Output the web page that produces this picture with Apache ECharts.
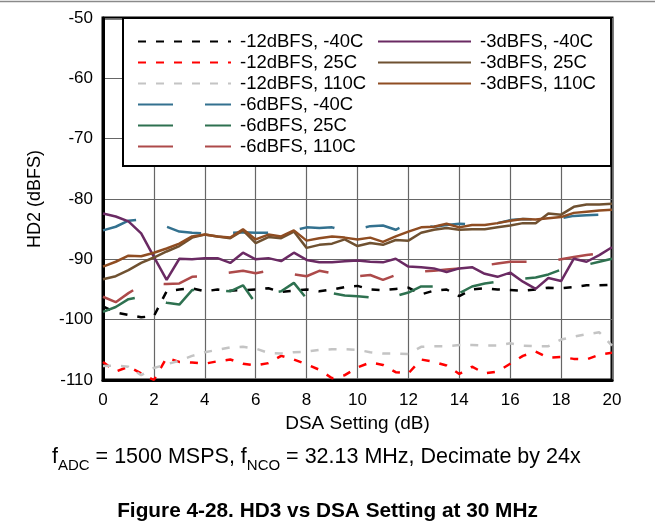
<!DOCTYPE html>
<html>
<head>
<meta charset="utf-8">
<title>HD3 vs DSA Setting at 30 MHz</title>
<script src="https://cdn.jsdelivr.net/npm/echarts@6/dist/echarts.min.js"></script>
<style>
  html, body { margin: 0; padding: 0; background: #fff; }
  #main { width: 655px; height: 529px; }
</style>
</head>
<body>
<div id="main"></div>
<script>
// DSA setting (dB), x positions of every sample
const dsa = [0, 0.5, 1, 1.5, 2, 2.5, 3, 3.5, 4, 4.5, 5, 5.5, 6, 6.5, 7, 7.5, 8, 8.5, 9, 9.5,
  10, 10.5, 11, 11.5, 12, 12.5, 13, 13.5, 14, 14.5, 15, 15.5, 16, 16.5, 17, 17.5, 18, 18.5, 19, 19.5, 20]

// HD2 (dBFS)
const m12_n40 = [-97.8, -98.8, -99.2, -99.6, -99.4, -95.3, -95.0, -94.8, -95.3, -95.0, -95.2, -95.1, -95.0, -94.8, -95.4, -95.2, -95.0, -95.3, -95.0, -94.6,
  -94.4, -95.0, -95.1, -94.9, -94.7, -95.8, -95.2, -95.0, -96.1, -95.0, -94.8, -95.0, -95.1, -95.2, -95.0, -94.7, -94.8, -94.6, -94.3, -94.3, -94.2]
const m12_25 = [-107.0, -108.6, -107.8, -108.9, -110.0, -106.3, -107.0, -107.1, -107.3, -106.9, -106.6, -107.3, -107.6, -107.2, -106.0, -106.6, -107.4, -108.3, -109.7, -109.2,
  -107.9, -107.1, -107.5, -108.7, -108.9, -106.6, -107.0, -107.6, -109.0, -107.8, -108.9, -108.6, -107.3, -106.0, -105.3, -106.3, -106.2, -106.5, -106.6, -105.8, -105.5]
const m12_110 = [-107.7, -107.6, -107.8, -109.2, -108.0, -107.4, -106.8, -106.0, -105.4, -105.0, -104.6, -104.5, -104.8, -105.5, -105.6, -105.4, -105.3, -105.0, -104.9, -104.9,
  -105.0, -105.4, -105.6, -105.6, -105.7, -104.5, -104.4, -104.4, -104.2, -104.2, -104.3, -104.3, -103.9, -104.3, -104.4, -104.4, -103.3, -102.8, -102.4, -102.1, -104.3]
const m6_n40 = [-85.2, -84.6, -83.6, -83.4, -84.0, -84.6, -85.4, -85.6, -85.7, -85.7, -85.6, -85.5, -85.6, -85.6, -85.5, -85.2, -84.7, -84.8, -84.7, -85.3,
  -85.0, -84.5, -84.4, -85.1, -84.1, -84.5, -84.6, -84.3, -84.1, -84.2, -84.2, -84.0, -83.5, -83.3, -83.4, -83.3, -83.2, -82.8, -82.7, -82.6, -82.0]
const m6_25 = [-98.7, -97.9, -96.6, -96.2, -96.5, -97.2, -97.5, -95.1, -95.1, -95.1, -95.3, -94.3, -97.3, -95.6, -95.3, -93.9, -96.5, -95.4, -95.6, -96.0,
  -96.1, -96.3, -95.6, -96.1, -95.5, -94.5, -94.5, -93.9, -95.6, -94.5, -94.0, -93.7, -93.4, -93.2, -93.0, -92.5, -91.7, -91.2, -90.9, -90.4, -89.9]
const m6_110 = [-96.2, -97.1, -95.6, -94.3, -94.0, -94.1, -94.0, -92.9, -92.8, -92.5, -92.2, -91.9, -92.3, -91.9, -92.3, -92.5, -92.8, -91.9, -92.3, -92.6,
  -92.8, -92.6, -93.4, -92.6, -92.3, -92.0, -91.9, -91.7, -91.5, -91.3, -91.0, -90.7, -90.4, -90.4, -90.4, -90.4, -90.0, -89.6, -89.3, -89.0, -88.2]
const m3_n40 = [-82.4, -82.9, -83.7, -85.7, -89.6, -93.4, -89.9, -90.0, -89.8, -89.8, -90.6, -88.9, -90.0, -89.8, -90.3, -88.9, -90.1, -90.5, -90.5, -90.3,
  -90.2, -90.4, -90.5, -89.9, -91.2, -91.3, -91.5, -92.1, -91.5, -91.3, -92.4, -92.9, -92.2, -93.7, -94.9, -93.1, -93.6, -89.9, -90.4, -89.3, -88.0]
const m3_25 = [-93.3, -92.8, -91.8, -90.6, -89.7, -88.7, -87.8, -86.4, -85.9, -86.2, -86.5, -85.2, -87.3, -86.3, -86.5, -85.4, -88.1, -87.6, -87.4, -86.7,
  -87.8, -87.3, -87.6, -86.8, -86.9, -85.6, -85.1, -84.8, -85.1, -85.0, -85.0, -84.7, -84.4, -84.0, -84.0, -82.4, -82.6, -81.3, -80.9, -80.9, -80.8]
const m3_110 = [-91.2, -90.4, -89.4, -89.5, -88.9, -88.2, -87.4, -86.2, -85.9, -86.2, -86.4, -85.0, -86.7, -85.9, -86.2, -85.2, -86.9, -86.5, -86.2, -86.4,
  -86.7, -86.4, -87.1, -86.2, -85.4, -84.7, -84.6, -84.1, -84.7, -84.3, -84.3, -84.0, -83.6, -83.3, -83.4, -83.2, -83.0, -82.3, -82.1, -81.9, -81.8]

const names = ['-12dBFS, -40C', '-12dBFS, 25C', '-12dBFS, 110C', '-6dBFS, -40C', '-6dBFS, 25C', '-6dBFS, 110C',
  '-3dBFS, -40C', '-3dBFS, 25C', '-3dBFS, 110C']

const FONT = '"Liberation Sans", Arial, sans-serif'
const shortDash = [8, 10]
const longDash = [35, 32]

function line (name, values, color, dash) {
  return {
    name: name,
    type: 'line',
    symbol: 'none',
    silent: true,
    data: dsa.map((x, i) => [x, values[i]]),
    lineStyle: { color: color, width: 2.5, type: dash || 'solid' },
    itemStyle: { color: color }
  }
}

function legendCol (data, left) {
  return {
    data: data, orient: 'vertical', left: left, top: 32, padding: 0,
    itemWidth: 93, itemHeight: 14, itemGap: 2, z: 5,
    itemStyle: { opacity: 0 },
    textStyle: { fontSize: 18.5, color: '#000', lineHeight: 16, fontFamily: FONT, padding: [0, 0, 0, 4] }
  }
}

const chart = echarts.init(document.getElementById('main'))

chart.setOption({
  animation: false,
  textStyle: { fontFamily: FONT },
  grid: { left: 103, right: 43, top: 18, bottom: 149, show: true, borderColor: '#000', borderWidth: 3 },
  xAxis: {
    type: 'value', min: 0, max: 20, interval: 2,
    name: 'DSA Setting (dB)', nameLocation: 'middle', nameGap: 28,
    nameTextStyle: { fontSize: 19, color: '#000', fontFamily: FONT },
    axisLine: { lineStyle: { color: '#000', width: 3 } },
    axisTick: { show: false },
    axisLabel: { fontSize: 17, color: '#000', margin: 12, fontFamily: FONT },
    splitLine: { lineStyle: { color: '#666', width: 1.2 } }
  },
  yAxis: {
    type: 'value', min: -110, max: -50, interval: 10,
    name: 'HD2 (dBFS)', nameLocation: 'middle', nameGap: 59, nameRotate: 90,
    nameTextStyle: { fontSize: 18, color: '#000', fontFamily: FONT },
    axisLine: { show: true, lineStyle: { color: '#000', width: 3 } },
    axisTick: { show: false },
    axisLabel: { fontSize: 17, color: '#000', margin: 10, fontFamily: FONT },
    splitLine: { lineStyle: { color: '#666', width: 1.2 } }
  },
  legend: [legendCol(names.slice(0, 6), 137), legendCol(names.slice(6), 377)],
  graphic: [
    { type: 'line', z: 10, shape: { x1: 0, y1: 1.5, x2: 655, y2: 1.5 }, style: { stroke: '#8a8a8a', lineWidth: 1.5 } },
    { type: 'rect', z: 3, shape: { x: 123, y: 18, width: 488, height: 148 }, style: { fill: '#fff', stroke: '#000', lineWidth: 2 } },
    {
      type: 'text', z: 10, left: 52, top: 446,
      style: {
        text: '{n|f}{s|ADC}{n| = 1500 MSPS, f}{s|NCO}{n| = 32.13 MHz, Decimate by 24x}',
        rich: {
          n: { fontSize: 21.5, fontFamily: FONT, fill: '#000', lineHeight: 26, verticalAlign: 'bottom' },
          s: { fontSize: 15, fontFamily: FONT, fill: '#000', lineHeight: 26, verticalAlign: 'bottom', padding: [0, 0, -5, 0] }
        }
      }
    },
    {
      type: 'text', z: 10, left: 'center', top: 501,
      style: { text: 'Figure 4-28. HD3 vs DSA Setting at 30 MHz', fontSize: 20.8, fontWeight: 'bold', fontFamily: FONT, fill: '#000' }
    }
  ],
  series: [
    line(names[0], m12_n40, '#000000', shortDash),
    line(names[1], m12_25, '#ff0000', shortDash),
    line(names[2], m12_110, '#c4c4c4', shortDash),
    line(names[3], m6_n40, '#33718f', longDash),
    line(names[4], m6_25, '#2e7150', longDash),
    line(names[5], m6_110, '#ad4a4a', longDash),
    line(names[6], m3_n40, '#6a2a63', null),
    line(names[7], m3_25, '#6f5131', null),
    line(names[8], m3_110, '#8f4d22', null)
  ]
})
</script>
</body>
</html>
